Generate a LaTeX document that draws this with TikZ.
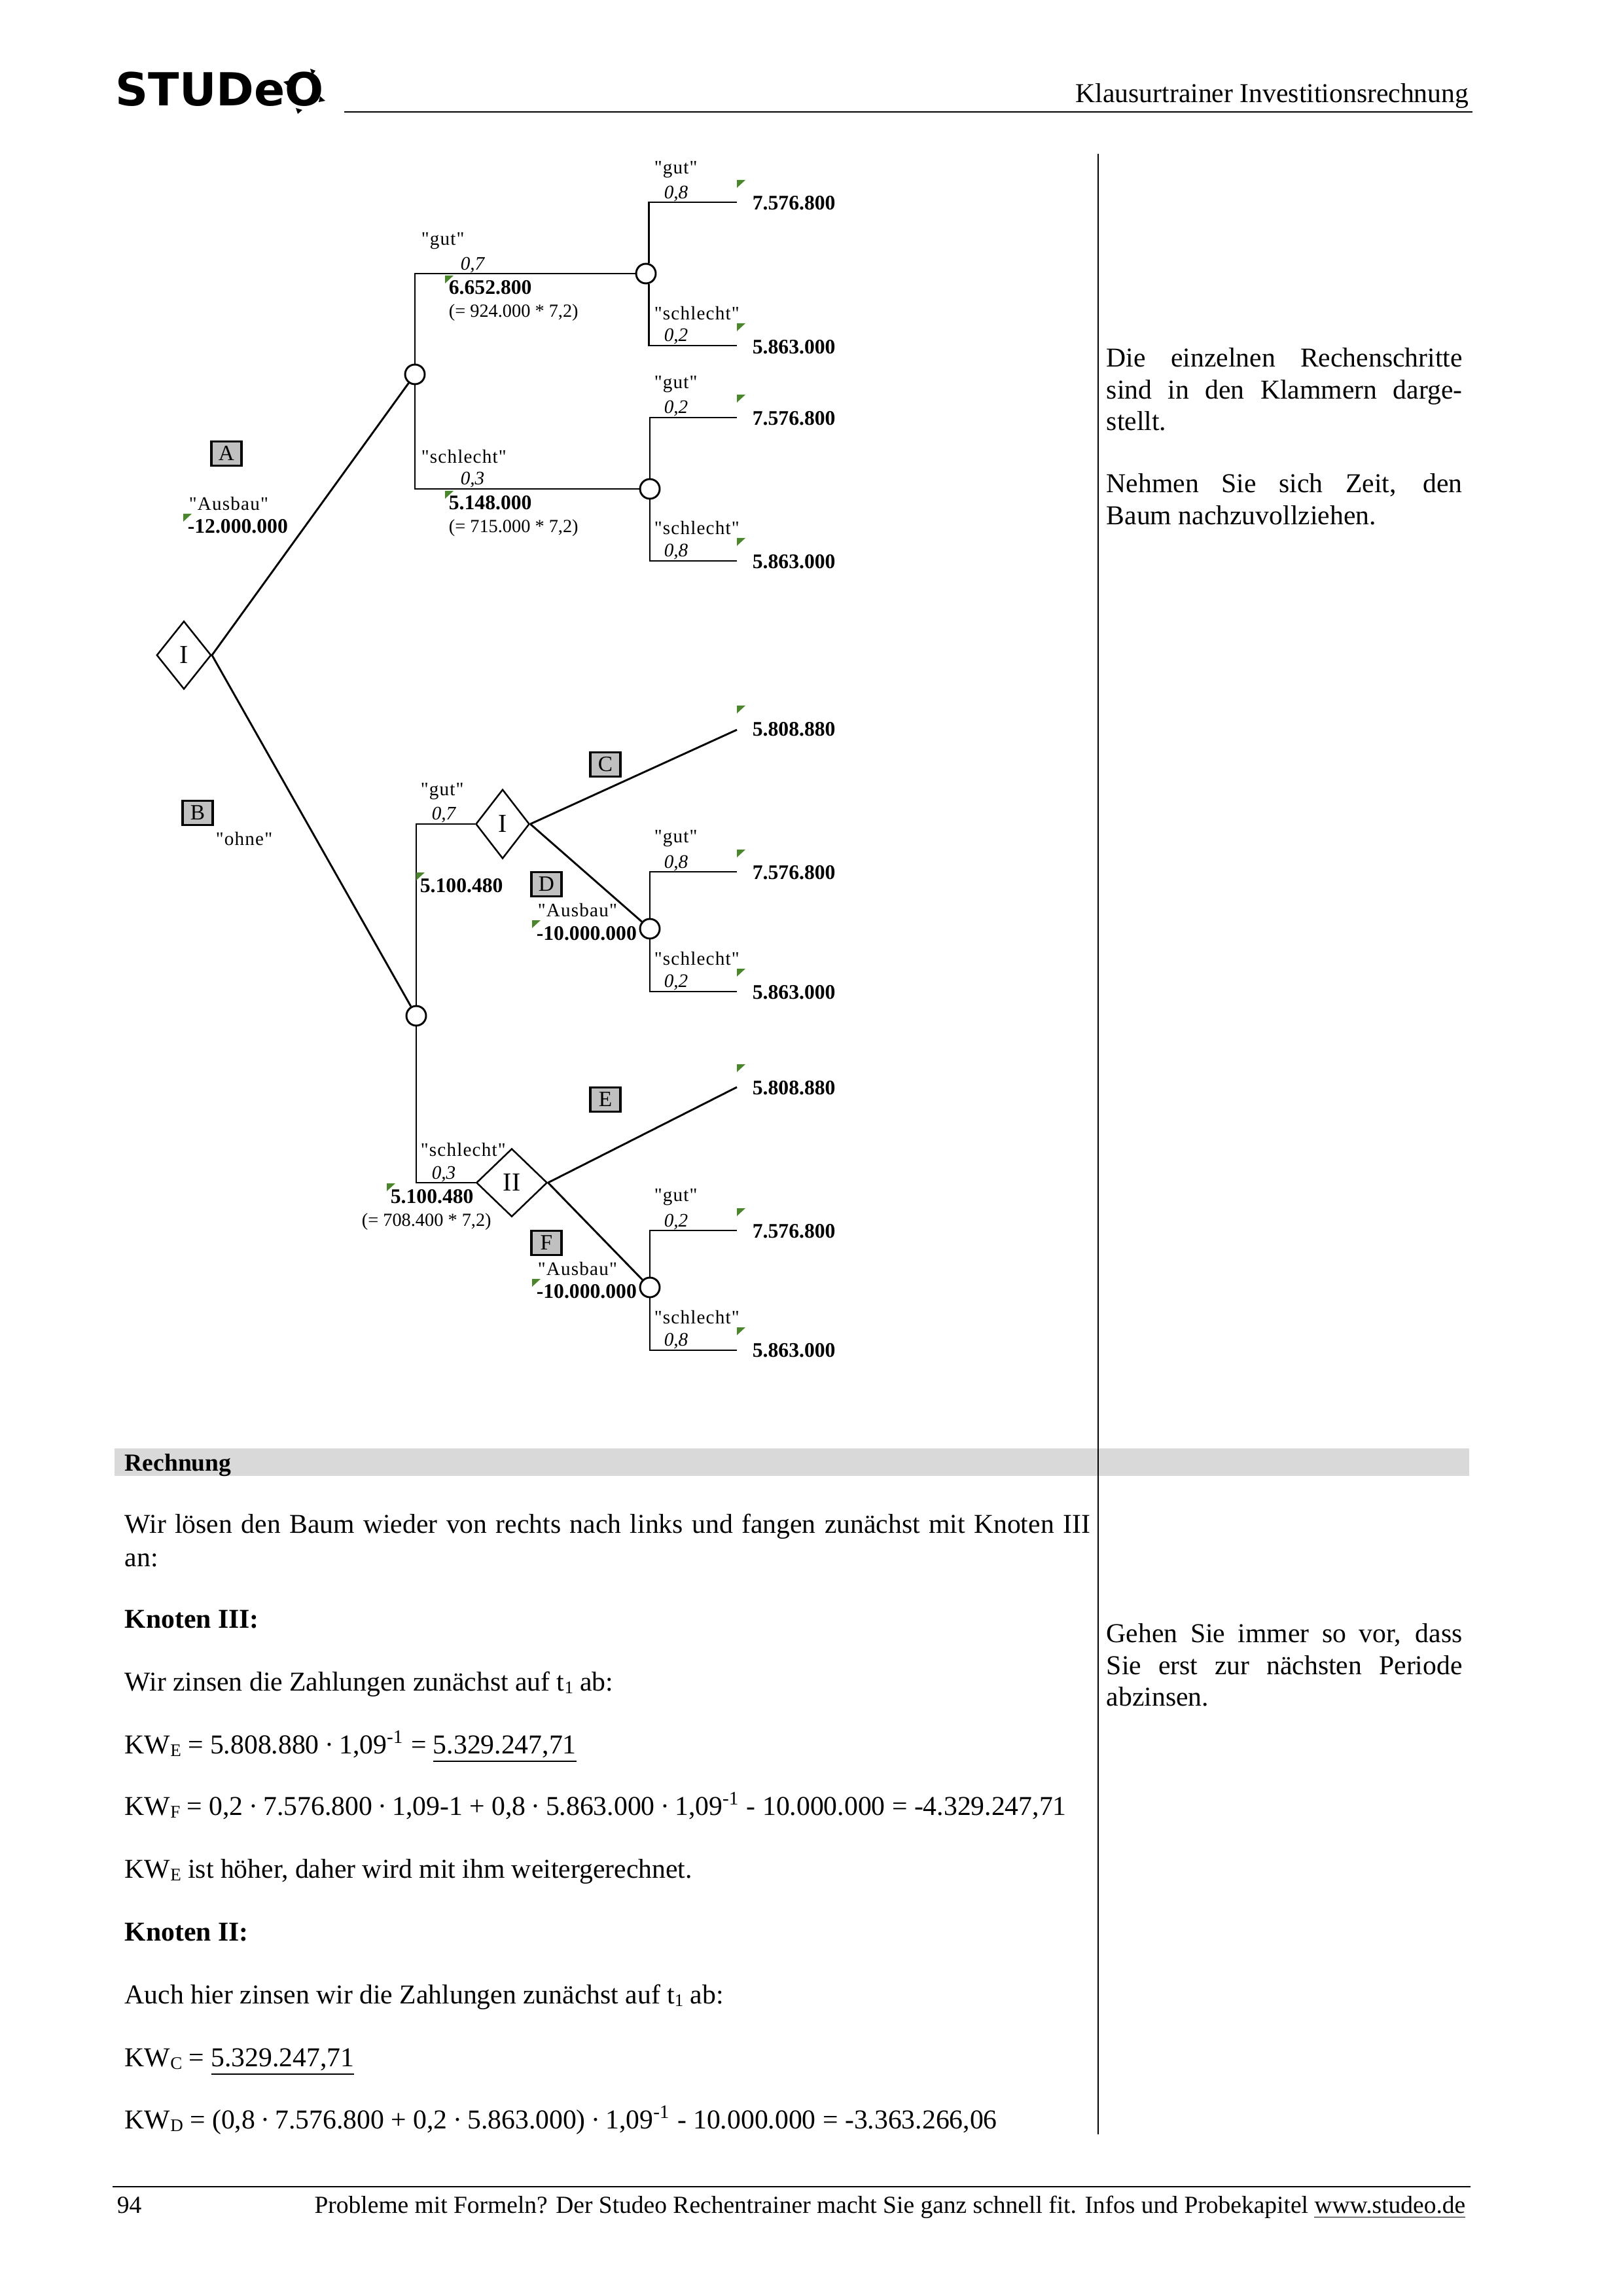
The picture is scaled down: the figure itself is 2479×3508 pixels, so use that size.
\documentclass[tikz,border=0pt]{standalone}
\usepackage{fontspec}
\setmainfont{Liberation Serif}
\newfontfamily\treefont[LetterSpace=4]{Liberation Serif}
\newfontfamily\logofont{DejaVu Sans Bold}
\usetikzlibrary{shapes.geometric}
\definecolor{tickgreen}{RGB}{74,134,42}
\definecolor{boxgray}{RGB}{192,192,192}
\definecolor{bandgray}{RGB}{217,217,217}
\tikzset{
  edge/.style={draw, line width=0.7pt},
  chance/.style={draw, circle, fill=white, line width=0.7pt, inner sep=0pt, minimum size=7.2pt},
  decide/.style={draw, diamond, fill=white, line width=0.6pt, inner sep=0pt, font=\fontsize{9.5}{10}\selectfont},
  optbox/.style={draw, fill=boxgray, line width=0.8pt, inner sep=0pt, minimum width=11pt, minimum height=9pt, font=\fontsize{8}{8}\selectfont},
  lbl/.style={anchor=west, inner sep=0pt, yshift=-0.3pt, font=\treefont\fontsize{7}{8}\selectfont},
  prob/.style={inner sep=0pt, yshift=-0.4pt, font=\fontsize{7}{8}\selectfont\itshape},
  val/.style={anchor=west, inner sep=0pt, font=\fontsize{7.6}{8}\selectfont\bfseries},
  calc/.style={anchor=west, inner sep=0pt, yshift=-0.5pt, font=\fontsize{6.8}{8}\selectfont},
  body/.style={anchor=base west, inner sep=0pt, font=\fontsize{10}{12}\selectfont},
  side/.style={anchor=north west, inner sep=0pt, text width=130.5pt, align=justify, font=\fontsize{10}{11.6}\selectfont}
}
\newcommand{\tick}[2]{\fill[tickgreen] (#1,#2) -- ++(13,0) -- ++(-13,12) -- cycle;}
\newcommand{\lowidx}[1]{\raisebox{-0.25ex}{\fontsize{6.5}{7}\selectfont #1}}
\newcommand{\mdot}{\hspace{0.2em}·\hspace{0.2em}}
\begin{document}
\begin{tikzpicture}[x=0.24pt,y=-0.24pt]
\useasboundingbox (0,0) rectangle (2479,3508);

% page frame
\node[anchor=base west, inner sep=0pt, font=\logofont\fontsize{16.7}{18}\selectfont] (logo) at (176,162) {STUDeO};
\fill (474,105) -- ++(8,3) -- ++(-5,7) -- cycle;
\fill (433,125) -- ++(9,-2) -- ++(0,10) -- cycle;
\fill (489,147) -- ++(8,7) -- ++(-10,2) -- cycle;
\fill (452,165) -- ++(10,3) -- ++(-7,6) -- cycle;
\node[anchor=base east, inner sep=0pt, font=\fontsize{10}{12}\selectfont] (head) at (2245,157) {Klausurtrainer Investitionsrechnung};
\coordinate (headl) at (526,171);
\coordinate (headr) at (2250,171);
\draw[line width=0.6pt] (headl) -- (headr);
\fill[bandgray] (175,2213) rectangle (2245,2255);
\coordinate (colt) at (1678,235);
\coordinate (colb) at (1678,3261);
\draw[line width=0.6pt] (colt) -- (colb);

% decision and chance nodes
\node[decide, minimum width=20pt, minimum height=25pt] (d1) at (281,1001) {I};
\node[decide, minimum width=19.7pt, minimum height=25.4pt] (d2) at (768,1259) {I};
\node[decide, minimum width=26pt, minimum height=25pt] (d3) at (782,1807) {II};
\node[chance] (c1) at (987,418) {};
\node[chance] (c2) at (634,572) {};
\node[chance] (c3) at (993,747) {};
\node[chance] (c4) at (636,1552) {};
\node[chance] (c5) at (993,1419) {};
\node[chance] (c6) at (993,1967) {};

% ends of the branches
\coordinate (l1) at (1126,309);
\coordinate (l2) at (1126,528);
\coordinate (l3) at (1126,638);
\coordinate (l4) at (1126,857);
\coordinate (l5) at (1126,1115);
\coordinate (l6) at (1126,1332);
\coordinate (l7) at (1126,1515);
\coordinate (l8) at (1126,1661);
\coordinate (l9) at (1126,1880);
\coordinate (l10) at (1126,2063);

\path[edge] (d1.east) -- (c2);
\path[edge] (d1.east) -- (c4);
\path[edge] (c2.north) |- (c1);
\path[edge] (c2.south) |- (c3);
\path[edge] ([xshift=1pt]c1.north) |- (l1);
\path[edge] ([xshift=1pt]c1.south) |- (l2);
\path[edge] (c3.north) |- (l3);
\path[edge] (c3.south) |- (l4);
\path[edge] (c4.north) |- (d2);
\path[edge] (c4.south) |- (d3);
\path[edge] (d2.east) -- (l5);
\path[edge] (d2.east) -- (c5);
\path[edge] (c5.north) |- (l6);
\path[edge] (c5.south) |- (l7);
\path[edge] (d3.east) -- (l8);
\path[edge] (d3.east) -- (c6);
\path[edge] (c6.north) |- (l9);
\path[edge] (c6.south) |- (l10);

% option boxes
\node[optbox] (A) at (346,693) {A};
\node[optbox] (B) at (302,1242) {B};
\node[optbox] (C) at (925,1168) {C};
\node[optbox] (D) at (835,1351) {D};
\node[optbox] (E) at (925,1680) {E};
\node[optbox] (F) at (835,1899) {F};

% first stage
\node[lbl] (t1) at (288,768) {"Ausbau"};
\tick{280}{785}
\node[val] (v1) at (286,804) {-12.000.000};
\node[lbl] (t2) at (329,1280) {"ohne"};

% upper tree
\node[lbl] (t3) at (643,367) {"gut"};
\node[prob] (p1) at (722,403) {0,7};
\tick{680}{421}
\node[val] (v2) at (685,439) {6.652.800};
\node[calc] (r1) at (685,476) {(= 924.000 * 7,2)};
\node[lbl] (t4) at (643,696) {"schlecht"};
\node[prob] (p2) at (722,731) {0,3};
\tick{680}{750}
\node[val] (v3) at (685,768) {5.148.000};
\node[calc] (r2) at (685,805) {(= 715.000 * 7,2)};

\node[lbl] (t5) at (999,258) {"gut"};
\node[prob] (p3) at (1033,294) {0,8};
\tick{1126}{275}
\node[val] (v4) at (1149,310) {7.576.800};
\node[lbl] (t6) at (999,477) {"schlecht"};
\node[prob] (p4) at (1033,512) {0,2};
\tick{1126}{494}
\node[val] (v5) at (1149,530) {5.863.000};
\node[lbl] (t7) at (999,586) {"gut"};
\node[prob] (p5) at (1033,622) {0,2};
\tick{1126}{603}
\node[val] (v6) at (1149,639) {7.576.800};
\node[lbl] (t8) at (999,805) {"schlecht"};
\node[prob] (p6) at (1033,841) {0,8};
\tick{1126}{822}
\node[val] (v7) at (1149,858) {5.863.000};

% middle tree
\tick{1126}{1078}
\node[val] (v8) at (1149,1114) {5.808.880};
\node[lbl] (t9) at (642,1208) {"gut"};
\node[prob] (p7) at (678,1243) {0,7};
\tick{636}{1333}
\node[val] (v9) at (641,1353) {5.100.480};
\node[lbl] (t10) at (821,1389) {"Ausbau"};
\tick{813}{1406}
\node[val] (v10) at (819,1426) {-10.000.000};
\node[lbl] (t11) at (999,1280) {"gut"};
\node[prob] (p8) at (1033,1317) {0,8};
\tick{1126}{1298}
\node[val] (v11) at (1149,1333) {7.576.800};
\node[lbl] (t12) at (999,1463) {"schlecht"};
\node[prob] (p9) at (1033,1499) {0,2};
\tick{1126}{1480}
\node[val] (v12) at (1149,1516) {5.863.000};

% lower tree
\tick{1126}{1626}
\node[val] (v13) at (1149,1662) {5.808.880};
\node[lbl] (t13) at (642,1755) {"schlecht"};
\node[prob] (p10) at (678,1792) {0,3};
\tick{591}{1808}
\node[val] (v14) at (596,1828) {5.100.480};
\node[calc] (r3) at (552,1865) {(= 708.400 * 7,2)};
\node[lbl] (t14) at (821,1937) {"Ausbau"};
\tick{813}{1954}
\node[val] (v15) at (819,1973) {-10.000.000};
\node[lbl] (t15) at (999,1828) {"gut"};
\node[prob] (p11) at (1033,1865) {0,2};
\tick{1126}{1846}
\node[val] (v16) at (1149,1881) {7.576.800};
\node[lbl] (t16) at (999,2011) {"schlecht"};
\node[prob] (p12) at (1033,2047) {0,8};
\tick{1126}{2028}
\node[val] (v17) at (1149,2063) {5.863.000};

% side notes
\node[side] (s1) at (1690,531) {Die einzelnen Rechenschritte\linebreak sind in den Klammern darge-\linebreak stellt.};
\node[side] (s2) at (1690,723) {Nehmen Sie sich Zeit, den\linebreak Baum nachzuvollziehen.};
\node[side] (s3) at (1690,2480) {Gehen Sie immer so vor, dass\linebreak Sie erst zur nächsten Periode\linebreak abzinsen.};

% calculation
\node[anchor=base west, inner sep=0pt, font=\fontsize{9}{10}\selectfont\bfseries] (rech) at (190,2247) {Rechnung};
\node[anchor=north west, inner sep=0pt, text width=354pt, align=justify, font=\fontsize{10}{12.2}\selectfont] (b1) at (190,2312) {Wir lösen den Baum wieder von rechts nach links und fangen zunächst mit Knoten III\linebreak an:};
\node[body] (b2) at (190,2487) {\textbf{Knoten III:}};
\node[body] (b3) at (190,2583) {Wir zinsen die Zahlungen zunächst auf t\lowidx{1} ab:};
\node[body] (b4) at (190,2679) {KW\lowidx{E} = 5.808.880\mdot 1,09\textsuperscript{-1} = \underline{5.329.247,71}};
\node[body] (b5) at (190,2773) {KW\lowidx{F} = 0,2\mdot 7.576.800\mdot 1,09-1 + 0,8\mdot 5.863.000\mdot 1,09\textsuperscript{-1} - 10.000.000 = -4.329.247,71};
\node[body] (b6) at (190,2869) {KW\lowidx{E} ist höher, daher wird mit ihm weitergerechnet.};
\node[body] (b7) at (190,2965) {\textbf{Knoten II:}};
\node[body] (b8) at (190,3061) {Auch hier zinsen wir die Zahlungen zunächst auf t\lowidx{1} ab:};
\node[body] (b9) at (190,3157) {KW\lowidx{C} = \underline{5.329.247,71}};
\node[body] (b10) at (190,3252) {KW\lowidx{D} = (0,8\mdot 7.576.800 + 0,2\mdot 5.863.000)\mdot 1,09\textsuperscript{-1} - 10.000.000 = -3.363.266,06};

% footer
\coordinate (footl) at (172,3341);
\coordinate (footr) at (2247,3341);
\draw[line width=0.6pt] (footl) -- (footr);
\node[anchor=base west, inner sep=0pt, font=\fontsize{9}{11}\selectfont] (page) at (178,3381) {94};
\node[anchor=base east, inner sep=0pt, font=\fontsize{9}{11}\selectfont] (foot) at (2240,3381) {Probleme mit Formeln? Der Studeo Rechentrainer macht Sie ganz schnell fit. Infos und Probekapitel \underline{www.studeo.de}};
\end{tikzpicture}
\end{document}
